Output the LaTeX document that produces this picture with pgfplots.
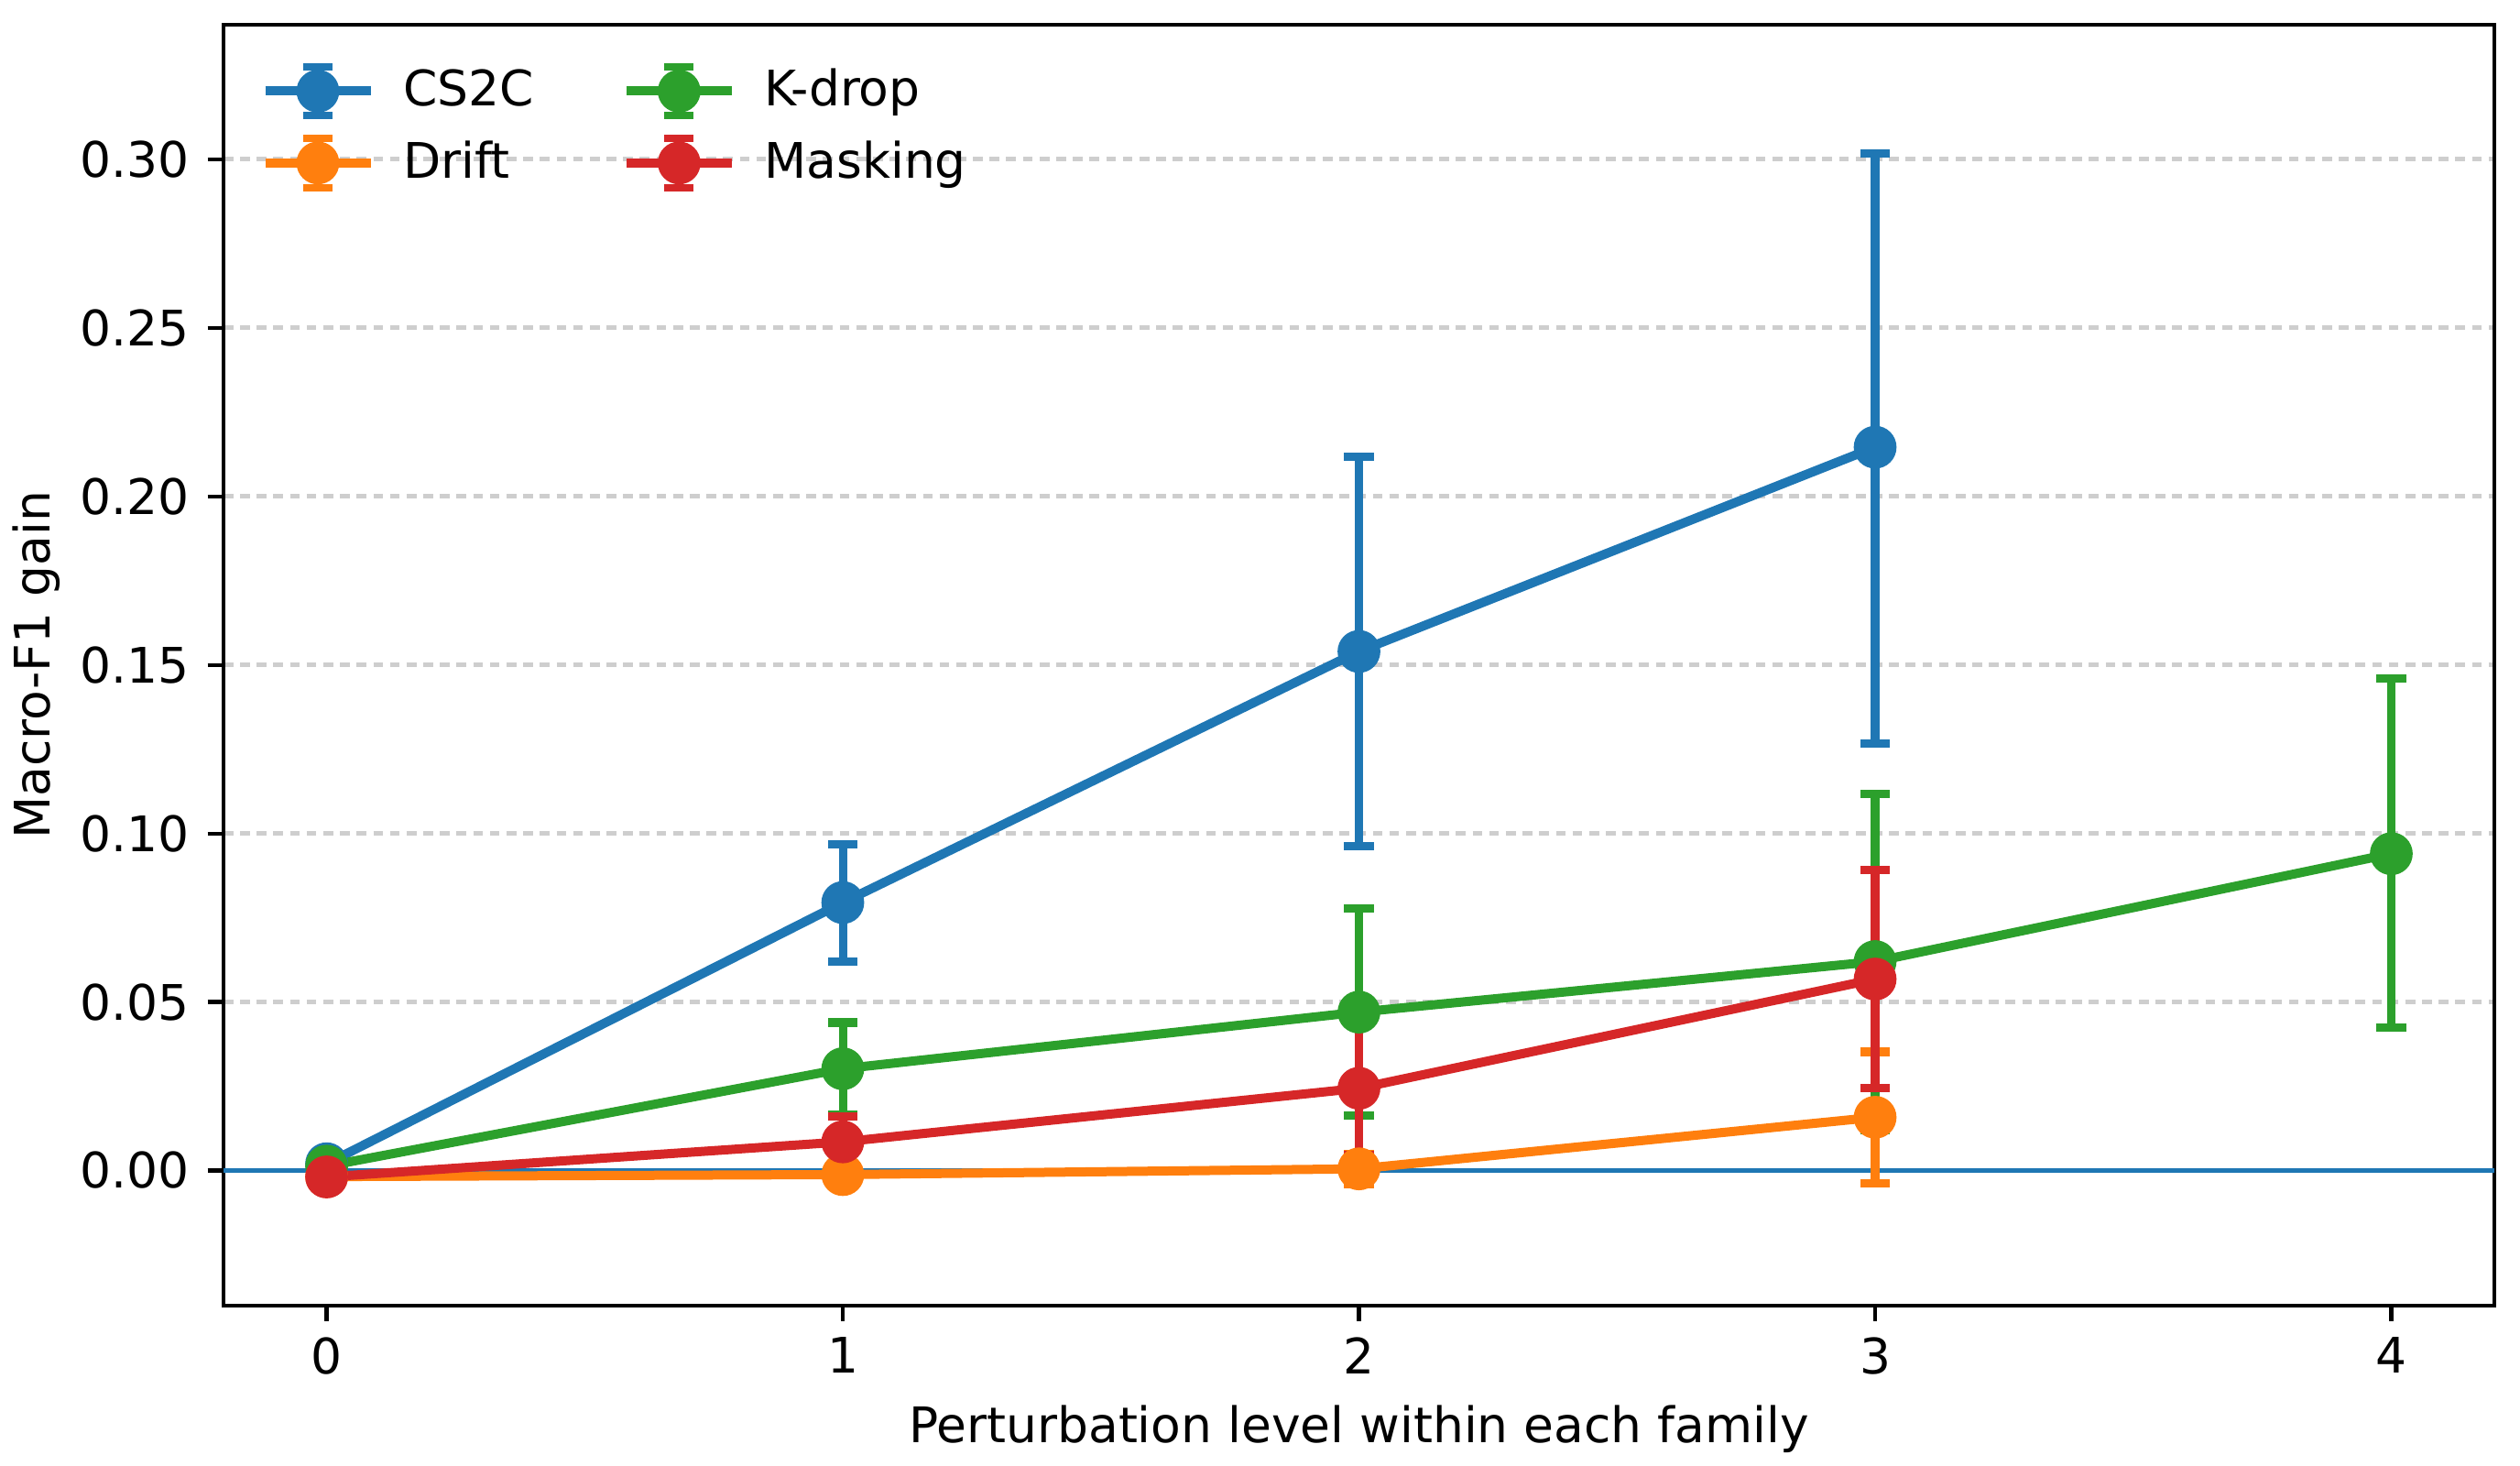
\documentclass[border=0pt]{standalone}
\usepackage{pgfplots}
\pgfplotsset{compat=1.18}
\usepackage{fontspec}
\setmainfont{DejaVu Sans}
\definecolor{C0}{HTML}{1F77B4}
\definecolor{C1}{HTML}{FF7F0E}
\definecolor{C2}{HTML}{2CA02C}
\definecolor{C3}{HTML}{D62728}
\definecolor{gridc}{RGB}{206,206,206}
\begin{document}
\begin{tikzpicture}
\begin{axis}[
  name=ax,
  scale only axis,
  width=463.6pt, height=261.4pt,
  xmin=-0.2, xmax=4.2, ymin=-0.04, ymax=0.34,
  xtick={0,1,2,3,4},
  ytick={0,0.05,0.10,0.15,0.20,0.25,0.30},
  /pgf/number format/assume math mode=true,
  yticklabel style={/pgf/number format/fixed, /pgf/number format/fixed zerofill, /pgf/number format/precision=2, anchor=east, inner sep=0pt, xshift=-3.6pt},
  font=\fontsize{10}{12}\selectfont,
  tick align=outside, tick pos=left,
  major tick length=3.2pt,
  every tick/.style={black, line width=0.8pt},
  axis line style={line width=0.8pt},
  ymajorgrids,
  major grid style={gridc, line width=0.9pt, dash pattern=on 2pt off 1.4pt},
  xlabel={Perturbation level within each family},
  ylabel={Macro-F1 gain},
  xlabel style={at={(axis description cs:0.5,0)}, anchor=center, yshift=-25.2pt, inner sep=0pt},
  ylabel style={at={(axis description cs:-0.0822,0.5)}, anchor=center, inner sep=0pt},
  xticklabel style={anchor=north, inner sep=0pt, yshift=-3.1pt},
  legend columns=2,
  transpose legend,
  legend cell align=left,
  legend style={draw=none, fill=none, at={(axis description cs:0.0164,0.973)}, anchor=north west,
    inner sep=0pt, outer sep=0pt, row sep=1.55pt,
    font=\fontsize{10}{12}\selectfont,
    /tikz/every odd column/.style={column sep=3.7pt},
    /tikz/every even column/.style={column sep=16pt}},
  legend image code/.code={
    \draw[line width=1.87pt] (0pt,0pt) -- (21.5pt,0pt);
    \draw[line width=1.5pt] (10.75pt,-5pt) -- (10.75pt,5pt);
    \draw[line width=1.5pt] (7.75pt,-5pt) -- (13.75pt,-5pt);
    \draw[line width=1.5pt] (7.75pt,5pt) -- (13.75pt,5pt);
    \fill (10.75pt,0pt) circle (3.43pt);
  },
]
% zero reference line
\addplot[C0, line width=0.87pt, forget plot] coordinates {(-0.2,0) (4.2,0)};

% error bars (drawn beneath all data lines)
\addplot[draw=none, mark=none, forget plot,
  error bars/.cd, y dir=both, y explicit,
  error bar style={draw=C0, line width=1.7pt, solid},
  error mark options={draw=C0, line width=1.7pt, mark size=3pt, rotate=90}]
  coordinates {
  (1,0.0795) += (0,0.0173) -= (0,0.0175)
  (2,0.154) += (0,0.0577) -= (0,0.0577)
  (3,0.2146) += (0,0.0872) -= (0,0.0878)
  };
\addplot[draw=none, mark=none, forget plot,
  error bars/.cd, y dir=both, y explicit,
  error bar style={draw=C1, line width=1.7pt, solid},
  error mark options={draw=C1, line width=1.7pt, mark size=3pt, rotate=90}]
  coordinates {
  (1,-0.0012) += (0,0.001) -= (0,0.001)
  (2,0.0005) += (0,0.0045) -= (0,0.0045)
  (3,0.0158) += (0,0.0194) -= (0,0.0197)
  };
\addplot[draw=none, mark=none, forget plot,
  error bars/.cd, y dir=both, y explicit,
  error bar style={draw=C2, line width=1.7pt, solid},
  error mark options={draw=C2, line width=1.7pt, mark size=3pt, rotate=90}]
  coordinates {
  (1,0.0302) += (0,0.0137) -= (0,0.0137)
  (2,0.047) += (0,0.0307) -= (0,0.0308)
  (3,0.062) += (0,0.0498) -= (0,0.0499)
  (4,0.094) += (0,0.052) -= (0,0.0516)
  };
\addplot[draw=none, mark=none, forget plot,
  error bars/.cd, y dir=both, y explicit,
  error bar style={draw=C3, line width=1.7pt, solid},
  error mark options={draw=C3, line width=1.7pt, mark size=3pt, rotate=90}]
  coordinates {
  (1,0.0085) += (0,0.0076) -= (0,0.0075)
  (2,0.0244) += (0,0.0206) -= (0,0.0199)
  (3,0.0568) += (0,0.0323) -= (0,0.0324)
  };

% data lines
\addplot[C0, line width=1.87pt, mark=*, mark size=3.43pt, mark options={solid}]
  coordinates {(0,0.002) (1,0.0795) (2,0.154) (3,0.2146)};
\addlegendentry{CS2C}
\addplot[C1, line width=1.87pt, mark=*, mark size=3.43pt, mark options={solid}]
  coordinates {(0,-0.0018) (1,-0.0012) (2,0.0005) (3,0.0158)};
\addlegendentry{Drift}
\addplot[C2, line width=1.87pt, mark=*, mark size=3.43pt, mark options={solid}]
  coordinates {(0,0.0013) (1,0.0302) (2,0.047) (3,0.062) (4,0.094)};
\addlegendentry{K-drop}
\addplot[C3, line width=1.87pt, mark=*, mark size=3.43pt, mark options={solid}]
  coordinates {(0,-0.0019) (1,0.0085) (2,0.0244) (3,0.0568)};
\addlegendentry{Masking}
\end{axis}
\pgfresetboundingbox
\path[use as bounding box] ([xshift=-45.6pt,yshift=-32.7pt]ax.south west) rectangle ([xshift=5.2pt,yshift=5.0pt]ax.north east);
\end{tikzpicture}
\end{document}
